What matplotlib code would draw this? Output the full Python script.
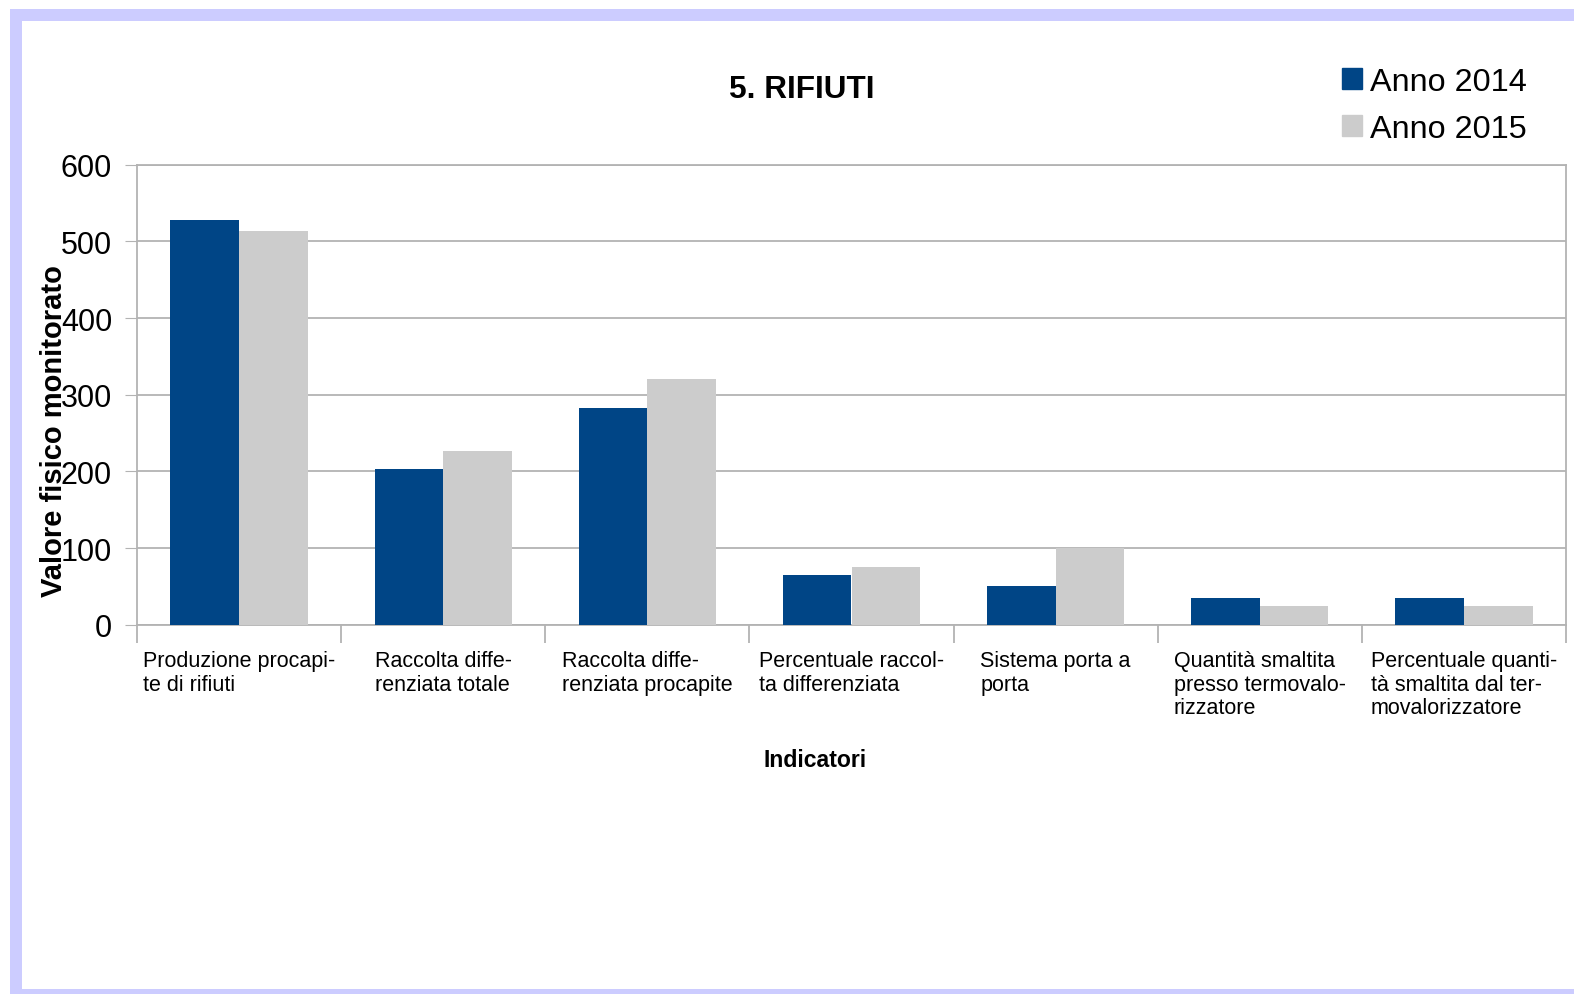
import numpy as np
import matplotlib
matplotlib.use("Agg")
import matplotlib.pyplot as plt
from matplotlib.patches import Rectangle, Patch

plt.rcParams['font.family'] = ['Liberation Sans', 'DejaVu Sans']

# dati
categorie = [
    "Produzione procapi-\nte di rifiuti",
    "Raccolta diffe-\nrenziata totale",
    "Raccolta diffe-\nrenziata procapite",
    "Percentuale raccol-\nta differenziata",
    "Sistema porta a\nporta",
    "Quantità smaltita\npresso termovalo-\nrizzatore",
    "Percentuale quanti-\ntà smaltita dal ter-\nmovalorizzatore",
]
anno_2014 = [528, 203, 283, 65, 51, 35, 35]
anno_2015 = [514, 227, 320, 75, 100, 24, 24]
serie = ["Anno 2014", "Anno 2015"]
colori = ["#004586", "#cccccc"]

W, H = 1574, 995
fig = plt.figure(figsize=(W / 100, H / 100), dpi=100)

# cornice lilla
viola = "#ccccff"
fig.patches.append(Rectangle((10 / W, 1 - 22 / H), 1 - 10 / W, 12 / H,
                             transform=fig.transFigure, color=viola, lw=0))
fig.patches.append(Rectangle((10 / W, 0), 12 / W, 1 - 10 / H,
                             transform=fig.transFigure, color=viola, lw=0))
fig.patches.append(Rectangle((10 / W, 0), 1 - 10 / W, 5 / H,
                             transform=fig.transFigure, color=viola, lw=0))

ax = fig.add_axes([137 / W, (H - 625.7) / H, (1566 - 137) / W, (625.7 - 165.7) / H])

x = np.arange(len(categorie))
w = 0.336
ax.bar(x - w / 2, anno_2014, w, color=colori[0], zorder=3)
ax.bar(x + w / 2, anno_2015, w, color=colori[1], zorder=3)

ax.set_xlim(-0.5, len(categorie) - 0.5)
ax.set_ylim(0, 600)
ax.set_yticks(range(0, 601, 100))
ax.tick_params(axis='y', labelsize=22, length=9, color="#b3b3b3", pad=9)
ax.yaxis.grid(True, color="#b3b3b3", lw=1.3, zorder=0)

# tick di categoria ai bordi
ax.set_xticks(np.arange(-0.5, len(categorie)), labels=[""] * (len(categorie) + 1))
ax.tick_params(axis='x', length=13, color="#b3b3b3", width=1.3)
for i, c in enumerate(categorie):
    ax.text(i, -0.055, c, transform=ax.get_xaxis_transform(), ha='center', va='top',
            multialignment='left', fontsize=15.5, linespacing=1.17)

for s in ax.spines.values():
    s.set_color("#b3b3b3")
    s.set_linewidth(1.3)

fig.text(802 / W, 1 - 90 / H, "5. RIFIUTI", ha='center', va='center',
         fontsize=22.7, fontweight='bold')
fig.text(815 / W, 1 - 761 / H, "Indicatori", ha='center', va='center',
         fontsize=16.6, fontweight='bold')
fig.text(54 / W, 1 - 431 / H, "Valore fisico monitorato", ha='center', va='center',
         rotation=90, fontsize=21, fontweight='bold')

handles = [Patch(color=c) for c in colori]
fig.legend(handles, serie, loc='upper left', bbox_to_anchor=(1342 / W, 1 - 68 / H),
           frameon=False, fontsize=23.3, handlelength=0.62, handleheight=0.62,
           handletextpad=0.25, labelspacing=0.52, borderpad=0, borderaxespad=0)

fig.savefig("out.png", dpi=100)
